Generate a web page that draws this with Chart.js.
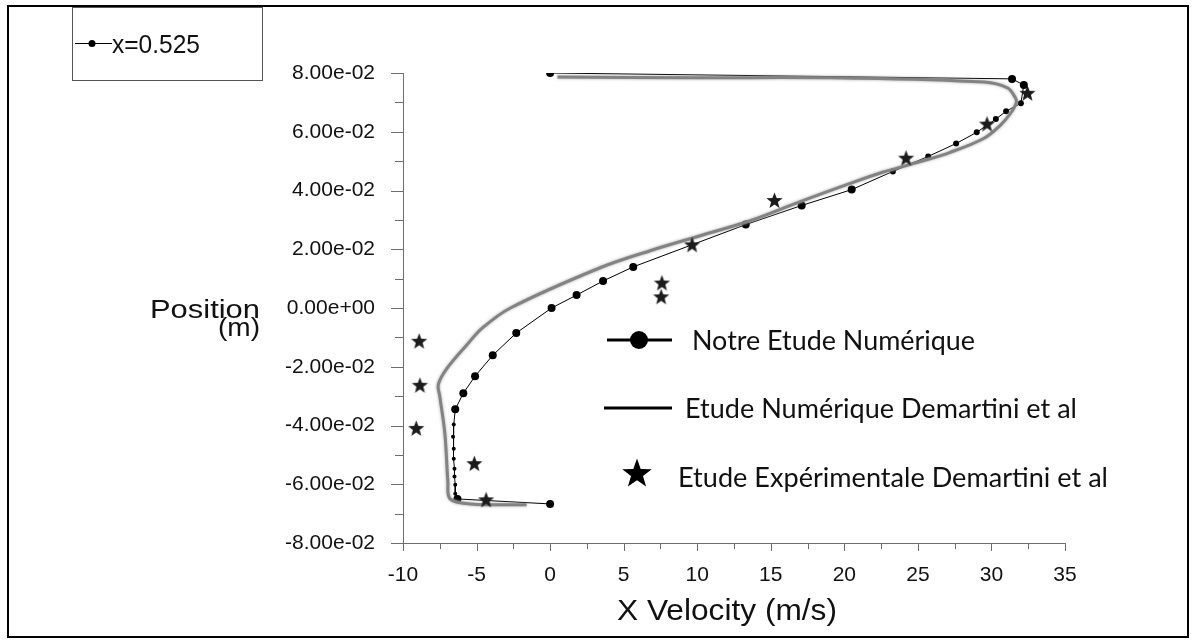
<!DOCTYPE html>
<html>
<head>
<meta charset="utf-8">
<script src="https://cdn.jsdelivr.net/npm/chart.js@4.4.1/dist/chart.umd.min.js"></script>
<style>
  html, body { margin: 0; background: #fff; }
  canvas { display: block; }
</style>
</head>
<body>
<canvas id="myChart" width="1194" height="641"></canvas>
<script>
// Notre Etude Numérique (x = 0.525)
const notreVel = [0.0, 31.4, 32.2, 32.0, 31.0, 30.3, 29.0, 27.6, 25.7, 23.3, 20.5, 17.1, 13.3, 5.65, 3.6, 1.8, 0.1, -2.3, -3.9, -5.1, -5.9, -6.45,
    -6.55, -6.6, -6.55, -6.55, -6.5, -6.5, -6.45, -6.45, -6.3, 0.0];
const notrePos = [0.0800, 0.0780, 0.0759, 0.0697, 0.0670, 0.0643, 0.0598, 0.0560, 0.0516, 0.0465, 0.0403, 0.0349, 0.0284, 0.0140, 0.0092, 0.0044, 0.0, -0.0085, -0.0161, -0.0232, -0.0290, -0.0345,
    -0.0397, -0.0438, -0.0479, -0.0513, -0.0547, -0.0574, -0.0602, -0.0632, -0.0650, -0.0667];

// Etude Numérique Demartini et al
const demNumVel = [0.5, 10, 20, 29.5, 31.1, 31.6, 31.7, 31.3, 30.6, 29.5, 27.2, 25.0, 22.6, 20.4, 17.0, 13.6, 10.2, 6.8, 3.4, -2.7, -4.6, -5.65, -7.0, -7.6, -7.5, -7.15, -6.95, -6.8, -5.4, -1.6];
const demNumPos = [0.0786, 0.0784, 0.0783, 0.0769, 0.0749, 0.0718, 0.0700, 0.0663, 0.0622, 0.0578, 0.0530, 0.0496, 0.0462, 0.0424, 0.0362, 0.0297, 0.0246, 0.0195, 0.0137, 0.0, -0.0068, -0.0125, -0.0205, -0.0260, -0.0300, -0.0430, -0.0590, -0.0650, -0.0667, -0.0670];

// Etude Expérimentale Demartini et al
const expVel = [-8.9, -8.85, -9.1, -5.15, -4.35, 7.6, 7.55, 9.65, 15.25, 24.2, 29.7, 32.45];
const expPos = [-0.0113, -0.0263, -0.0410, -0.0530, -0.0653, 0.0085, 0.0038, 0.0215, 0.0366, 0.0510, 0.0626, 0.0731];

const xTickValues = [-10, -5, 0, 5, 10, 15, 20, 25, 30, 35];
const yTickValues = [-0.08, -0.06, -0.04, -0.02, 0, 0.02, 0.04, 0.06, 0.08];
const yTickLabels = ['-8.00e-02', '-6.00e-02', '-4.00e-02', '-2.00e-02', '0.00e+00', '2.00e-02', '4.00e-02', '6.00e-02', '8.00e-02'];

const AXIS = '#6f6f6f';
const SANS = '"Liberation Sans", Arial, sans-serif';
const LEG = 'Lato, "Open Sans", sans-serif';

function toPoints(xs, ys) {
    return xs.map((x, i) => ({ x: x, y: ys[i] }));
}

function starPath(ctx, cx, cy, R, r) {
    ctx.beginPath();
    for (let i = 0; i < 10; i++) {
        const a = -Math.PI / 2 + i * Math.PI / 5;
        const rad = i % 2 ? r : R;
        ctx.lineTo(cx + rad * Math.cos(a), cy + rad * Math.sin(a));
    }
    ctx.closePath();
}

const starImg = document.createElement('canvas');
starImg.width = 19;
starImg.height = 19;
{
    const c = starImg.getContext('2d');
    c.fillStyle = '#1c1c1c';
    starPath(c, 9.5, 10, 8.5, 3.6);
    c.fill();
}

// text squeezed/stretched to the width seen in the picture
function fitText(ctx, text, x, y, width) {
    const w = ctx.measureText(text).width;
    ctx.save();
    ctx.translate(x, y);
    ctx.scale(width / w, 1);
    ctx.fillText(text, 0, 0);
    ctx.restore();
}

const decor = {
    id: 'decor',
    beforeDraw(chart) {
        const ctx = chart.ctx;
        ctx.save();
        ctx.fillStyle = '#fff';
        ctx.fillRect(0, 0, chart.width, chart.height);
        ctx.restore();
    },
    // soft grey halo round the Demartini curve
    beforeDatasetDraw(chart, args) {
        if (args.index === 1) {
            chart.ctx.save();
            chart.ctx.shadowColor = 'rgba(150, 150, 150, 0.9)';
            chart.ctx.shadowBlur = 3;
        }
    },
    afterDatasetDraw(chart, args) {
        if (args.index === 1) chart.ctx.restore();
    },
    afterDraw(chart) {
        const ctx = chart.ctx;
        const xs = chart.scales.x, ys = chart.scales.y;
        const L = xs.left, R = xs.right, T = ys.top, B = ys.bottom;
        ctx.save();

        // axes + ticks
        ctx.strokeStyle = AXIS;
        ctx.lineWidth = 1;
        ctx.beginPath();
        ctx.moveTo(L + 0.5, T);
        ctx.lineTo(L + 0.5, B + 1);
        ctx.moveTo(L, B + 0.5);
        ctx.lineTo(R + 1, B + 0.5);
        yTickValues.forEach((v, i) => {
            const py = Math.round(ys.getPixelForValue(v)) + 0.5;
            ctx.moveTo(L - 12, py);
            ctx.lineTo(L + 0.5, py);
            if (i < yTickValues.length - 1) {
                const pm = Math.round(ys.getPixelForValue((v + yTickValues[i + 1]) / 2)) + 0.5;
                ctx.moveTo(L - 8, pm);
                ctx.lineTo(L + 0.5, pm);
            }
        });
        xTickValues.forEach((v, i) => {
            const px = Math.round(xs.getPixelForValue(v)) + 0.5;
            ctx.moveTo(px, B);
            ctx.lineTo(px, B + 8);
            if (i < xTickValues.length - 1) {
                const pm = Math.round(xs.getPixelForValue((v + xTickValues[i + 1]) / 2)) + 0.5;
                ctx.moveTo(pm, B);
                ctx.lineTo(pm, B + 6);
            }
        });
        ctx.stroke();

        // axis titles
        ctx.fillStyle = '#111';
        ctx.textAlign = 'left';
        ctx.textBaseline = 'alphabetic';
        ctx.font = '30px ' + SANS;
        fitText(ctx, 'X Velocity (m/s)', 617, 620, 220);
        ctx.font = '25px ' + SANS;
        fitText(ctx, 'Position', 150, 318, 110);
        fitText(ctx, '(m)', 218, 336, 42);

        // outer frame
        ctx.strokeStyle = '#000';
        ctx.lineWidth = 2;
        ctx.strokeRect(8, 6, 1180, 631);

        // top-left legend box
        ctx.strokeStyle = '#555';
        ctx.lineWidth = 1;
        ctx.strokeRect(72.5, 7.5, 190, 73);
        ctx.strokeStyle = '#000';
        ctx.beginPath();
        ctx.moveTo(75, 43.5);
        ctx.lineTo(112, 43.5);
        ctx.stroke();
        ctx.fillStyle = '#000';
        ctx.beginPath();
        ctx.arc(92, 43.5, 3.5, 0, Math.PI * 2);
        ctx.fill();
        ctx.fillStyle = '#111';
        ctx.font = '25px ' + SANS;
        fitText(ctx, 'x=0.525', 112, 53, 88);

        // middle legend
        ctx.strokeStyle = '#000';
        ctx.lineWidth = 3;
        ctx.beginPath();
        ctx.moveTo(607, 340);
        ctx.lineTo(672, 340);
        ctx.moveTo(604, 408);
        ctx.lineTo(672, 408);
        ctx.stroke();
        ctx.fillStyle = '#000';
        ctx.beginPath();
        ctx.arc(639, 340, 9, 0, Math.PI * 2);
        ctx.fill();
        starPath(ctx, 637, 474, 15.5, 6.3);
        ctx.fill();
        ctx.fillStyle = '#111';
        ctx.font = '26px ' + LEG;
        fitText(ctx, 'Notre Etude Numérique', 692, 350, 283);
        fitText(ctx, 'Etude Numérique Demartini et al', 685, 418, 392);
        fitText(ctx, 'Etude Expérimentale Demartini et al', 678, 487, 430);

        ctx.restore();
    }
};

const ctx = document.getElementById('myChart').getContext('2d');
const myChart = new Chart(ctx, {
    type: 'scatter',
    data: {
        datasets: [{
            label: 'Etude Expérimentale Demartini et al',
            data: toPoints(expVel, expPos),
            pointStyle: starImg,
            showLine: false,
            order: 0
        }, {
            label: 'Etude Numérique Demartini et al',
            data: toPoints(demNumVel, demNumPos),
            showLine: true,
            borderColor: 'rgba(128, 128, 128, 0.95)',
            borderWidth: 3,
            tension: 0.35,
            pointRadius: 0,
            order: 1
        }, {
            label: 'x=0.525',
            data: toPoints(notreVel, notrePos),
            showLine: true,
            borderColor: '#000',
            borderWidth: 1,
            backgroundColor: '#000',
            pointBackgroundColor: '#000',
            pointBorderWidth: 0,
            pointRadius: c => {
                const y = c.raw ? c.raw.y : 0;
                if (y < -0.036 && y > -0.064) return 2;
                if (y > 0.045 && y < 0.074) return 3;
                return 4;
            },
            order: 2
        }]
    },
    options: {
        responsive: false,
        animation: false,
        devicePixelRatio: 1,
        layout: { padding: { top: 73, right: 129, left: 0, bottom: 0 } },
        plugins: {
            legend: { display: false },
            tooltip: { enabled: false }
        },
        scales: {
            x: {
                type: 'linear',
                min: -10,
                max: 35,
                afterBuildTicks: s => { s.ticks = xTickValues.map(v => ({ value: v })); },
                afterFit: s => { s.height = 98; },
                grid: { display: false },
                border: { display: false },
                ticks: {
                    color: '#111',
                    font: { family: SANS, size: 21 },
                    padding: 12,
                    maxRotation: 0,
                    callback: v => String(v)
                }
            },
            y: {
                type: 'linear',
                min: -0.08,
                max: 0.08,
                afterBuildTicks: s => { s.ticks = yTickValues.map(v => ({ value: v })); },
                afterFit: s => { s.width = 403; },
                grid: { display: false },
                border: { display: false },
                ticks: {
                    color: '#111',
                    font: { family: SANS, size: 21 },
                    padding: 20,
                    callback: (v, i) => yTickLabels[i]
                }
            }
        }
    },
    plugins: [decor]
});
</script>
</body>
</html>
